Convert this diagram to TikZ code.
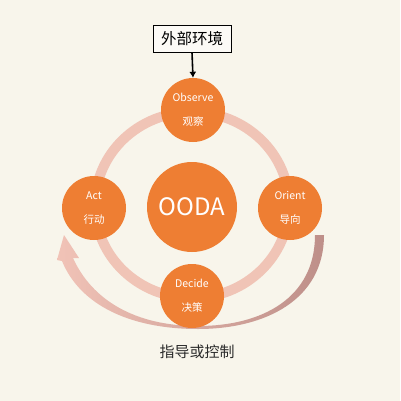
\documentclass[tikz,border=0pt]{standalone}
\usepackage{fontspec}
\setmainfont{Noto Sans CJK SC}
\usetikzlibrary{arrows.meta}
\definecolor{bg}{HTML}{F8F5EB}
\definecolor{oorange}{HTML}{EE7E33}
\definecolor{ringpink}{HTML}{F0C4B6}
\definecolor{bandlight}{HTML}{F1C3B7}
\definecolor{banddark}{HTML}{BE8F89}
\definecolor{darktext}{HTML}{2B2B2B}
\begin{document}
\begin{tikzpicture}[x=1pt,y=-1pt,
  phase/.style={circle, fill=oorange, minimum size=64pt, inner sep=0pt,
    text=white, align=center, font=\fontsize{10.5}{24}\selectfont},
  hub/.style={circle, fill=oorange, minimum size=90pt, inner sep=0pt,
    text=white, font=\fontsize{24}{28}\selectfont},
  envbox/.style={draw=black, line width=0.9pt, fill=white!55!bg,
    minimum width=78pt, minimum height=27pt, inner sep=0pt,
    font=\fontsize{15.5}{18}\selectfont},
  caption/.style={text=darktext, font=\fontsize{15}{18}\selectfont}]
\fill[bg] (0,0) rectangle (400,401);
\useasboundingbox (0,0) rectangle (400,401);
% ring
\draw[line width=10pt, ringpink] (192,205) ellipse [x radius=97, y radius=93];
% outer feedback arrow band
\coordinate (bandR) at (319.5,235);
\coordinate (tip) at (64,235);
\shade[left color=bandlight, right color=banddark, shading angle=90]
  (324,235) .. controls (324,300) and (265,329) .. (198,329)
  .. controls (130,329) and (80,305) .. (62,261)
  -- (57,260) -- (tip) -- (79,258) -- (73,258)
  .. controls (92,300) and (135,326) .. (198,326)
  .. controls (262,326) and (315,298) .. (315,235) -- cycle;
% nodes
\node[hub] (ooda) at (192,207) {OODA};
\node[phase] (observe) at (193,110) {Observe\\观察};
\node[phase] (orient) at (290,208) {Orient\\导向};
\node[phase] (decide) at (192,296) {Decide\\决策};
\node[phase] (act) at (94,208) {Act\\行动};
\node[envbox] (env) at (192,38.5) {外部环境};
\node[caption] (guide) at (197,352) {指导或控制};
\draw[line width=1.6pt, -{Latex[length=6pt,width=7pt]}] (env.south) -- (observe.north);
\end{tikzpicture}
\end{document}
